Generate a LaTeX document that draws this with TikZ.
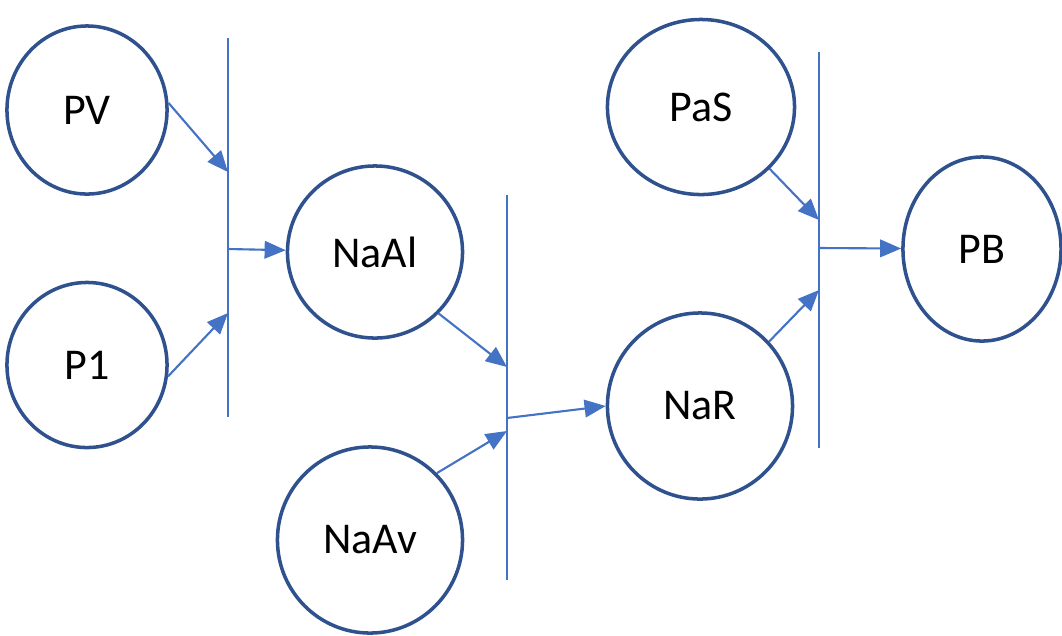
\documentclass[tikz,border=0pt]{standalone}
\usepackage{fontspec}
\setmainfont{Carlito}
\usetikzlibrary{shapes.geometric,arrows.meta}

\begin{document}
\begin{tikzpicture}[x=0.01cm,y=-0.01cm,
    place/.style={ellipse, draw=circleblue, line width=1pt, fill=white,
        inner sep=0pt, font=\fontsize{12.5}{14}\selectfont},
    bar/.style={draw=flowblue, line width=0.6pt},
    flow/.style={draw=flowblue, line width=0.6pt,
        -{Triangle[length=6pt,width=5pt]}, fill=flowblue}]

    % Colors for the places and arcs
    \definecolor{circleblue}{RGB}{47,82,143}
    \definecolor{flowblue}{RGB}{68,114,196}

    \useasboundingbox (0,0) rectangle (1062,635);

    % Places
    \node[place, minimum width=1.6cm, minimum height=1.68cm] (PV) at (87,110) {PV};
    \node[place, minimum width=1.6cm, minimum height=1.65cm] (P1) at (87,365) {P1};
    \node[place, minimum width=1.75cm, minimum height=1.72cm] (NaAl) at (375,252) {NaAl};
    \node[place, minimum width=1.85cm, minimum height=1.86cm] (NaAv) at (370,540) {NaAv};
    \node[place, minimum width=1.87cm, minimum height=1.75cm] (PaS) at (701,107) {PaS};
    \node[place, minimum width=1.85cm, minimum height=1.86cm] (NaR) at (700,406) {NaR};
    \node[place, minimum width=1.58cm, minimum height=1.84cm] (PB) at (982,249) {PB};

    % Transition bars
    \coordinate (t1top) at (228,38);
    \coordinate (t1bot) at (228,417);
    \coordinate (t2top) at (507,195);
    \coordinate (t2bot) at (507,580);
    \coordinate (t3top) at (819,52);
    \coordinate (t3bot) at (819,448);
    \draw[bar] (t1top) -- (t1bot);
    \draw[bar] (t2top) -- (t2bot);
    \draw[bar] (t3top) -- (t3bot);

    % Points where the arcs meet the bars
    \coordinate (t1in1) at (228,172);
    \coordinate (t1in2) at (228,313);
    \coordinate (t1out) at (228,249);
    \coordinate (t2in1) at (507,367);
    \coordinate (t2in2) at (507,431);
    \coordinate (t2out) at (507,418);
    \coordinate (t3in1) at (819,220);
    \coordinate (t3in2) at (819,290);
    \coordinate (t3out) at (819,248);

    % Arcs
    \draw[flow] (PV.5) -- (t1in1);
    \draw[flow] (P1.-8) -- (t1in2);
    \draw[flow] (t1out) -- (NaAl);
    \draw[flow] (NaAl.-44) -- (t2in1);
    \draw[flow] (NaAv.45) -- (t2in2);
    \draw[flow] (t2out) -- (NaR.west);
    \draw[flow] (PaS.-42) -- (t3in1);
    \draw[flow] (NaR.43) -- (t3in2);
    \draw[flow] (t3out) -- (PB);

\end{tikzpicture}
\end{document}
